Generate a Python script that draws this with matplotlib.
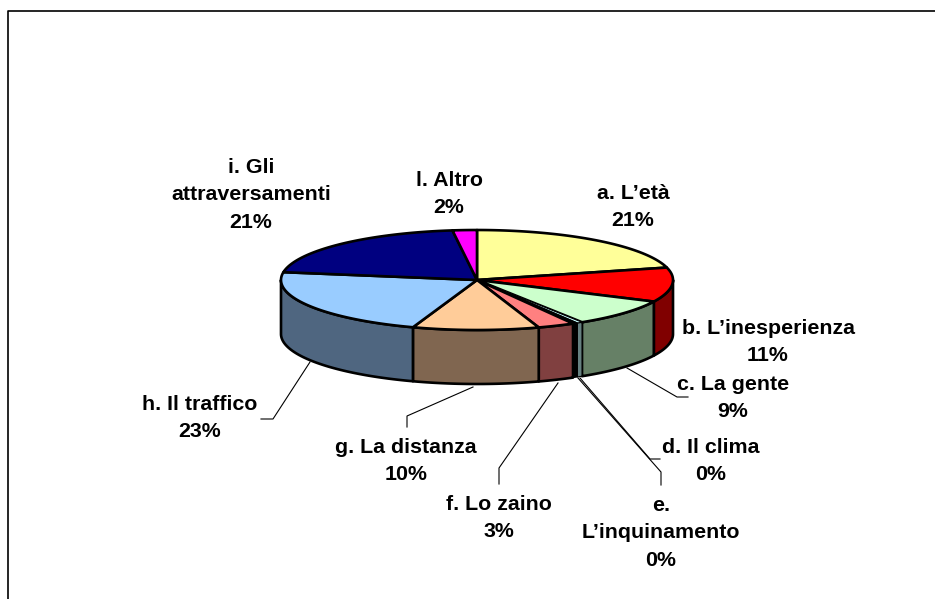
import numpy as np
import matplotlib
matplotlib.use("Agg")
import matplotlib.pyplot as plt
from matplotlib.patches import Polygon

# Values (percent)
names = ["a. L’età", "b. L’inesperienza", "c. La gente", "d. Il clima",
         "e.\nL’inquinamento", "f. Lo zaino", "g. La distanza",
         "h. Il traffico", "i. Gli\nattraversamenti", "l. Altro"]
percent_labels = ["21%", "11%", "9%", "0%", "0%", "3%", "10%", "23%", "21%", "2%"]
values = [21.0, 11.1, 8.9, 0.45, 0.4, 3.05, 10.4, 22.2, 20.5, 2.0]
top_colors = ["#FFFF99", "#FF0000", "#CCFFCC", "#CCFFFF", "#000000",
              "#FF8080", "#FFCC99", "#99CCFF", "#000080", "#FF00FF"]
side_colors = ["#80804D", "#800000", "#668066", "#668080", "#000000",
               "#804040", "#806650", "#4F6680", "#000040", "#800080"]

# Label positions (pixels)
label_x = [633, 768, 733, 711, 661, 499, 406, 200, 251, 449]
label_y = [207, 342, 398, 461, 533, 518, 461, 418, 195, 194]

# Leader lines (pixels)
leaders = [
    ([627, 677, 688], [368, 397, 397]),
    ([580, 650, 660], [378, 459, 459]),
    ([578, 661, 661], [378, 472, 485]),
    ([558, 499, 499], [383, 468, 484]),
    ([473, 407, 407], [387, 416, 427]),
    ([310, 273, 261], [362, 419, 419]),
]

cx, cy = 477, 280
rx, ry = 196, 50
depth = 54

fig = plt.figure(figsize=(9.35, 5.99), dpi=100)
ax = fig.add_axes([0, 0, 1, 1])
ax.set_xlim(0, 935)
ax.set_ylim(599, 0)
ax.axis("off")

# Outer frame
ax.plot([7.5, 7.5, 935], [599, 10.5, 10.5], color="black", lw=1.2)


def rim(a0, a1):
    t = np.radians(np.linspace(a0, a1, 80))
    return cx + rx * np.sin(t), cy - ry * np.cos(t)


angles = np.concatenate([[0], np.cumsum(values)]) / sum(values) * 360

# Side walls: only the front half of the rim shows
for i in range(len(values)):
    a0 = max(angles[i], 90)
    a1 = min(angles[i + 1], 270)
    if a1 <= a0:
        continue
    x, y = rim(a0, a1)
    pts = np.r_[np.c_[x, y], np.c_[x[::-1], y[::-1] + depth]]
    ax.add_patch(Polygon(pts, facecolor=side_colors[i], edgecolor="black",
                         lw=1.9 if values[i] > 1 else 0.8, joinstyle="round"))

# Top faces
for i in range(len(values)):
    x, y = rim(angles[i], angles[i + 1])
    pts = np.r_[[[cx, cy]], np.c_[x, y]]
    ax.add_patch(Polygon(pts, facecolor=top_colors[i], edgecolor="black",
                         lw=1.9 if values[i] > 1 else 0.8, joinstyle="round"))

for lx, ly in leaders:
    ax.plot(lx, ly, color="black", lw=0.8)

for name, pct, x, y in zip(names, percent_labels, label_x, label_y):
    ax.text(x, y, name + "\n" + pct, ha="center", va="center",
            family="Liberation Sans", weight="bold", fontsize=15.4,
            linespacing=1.55, color="black")

fig.savefig("out.png", dpi=100)
